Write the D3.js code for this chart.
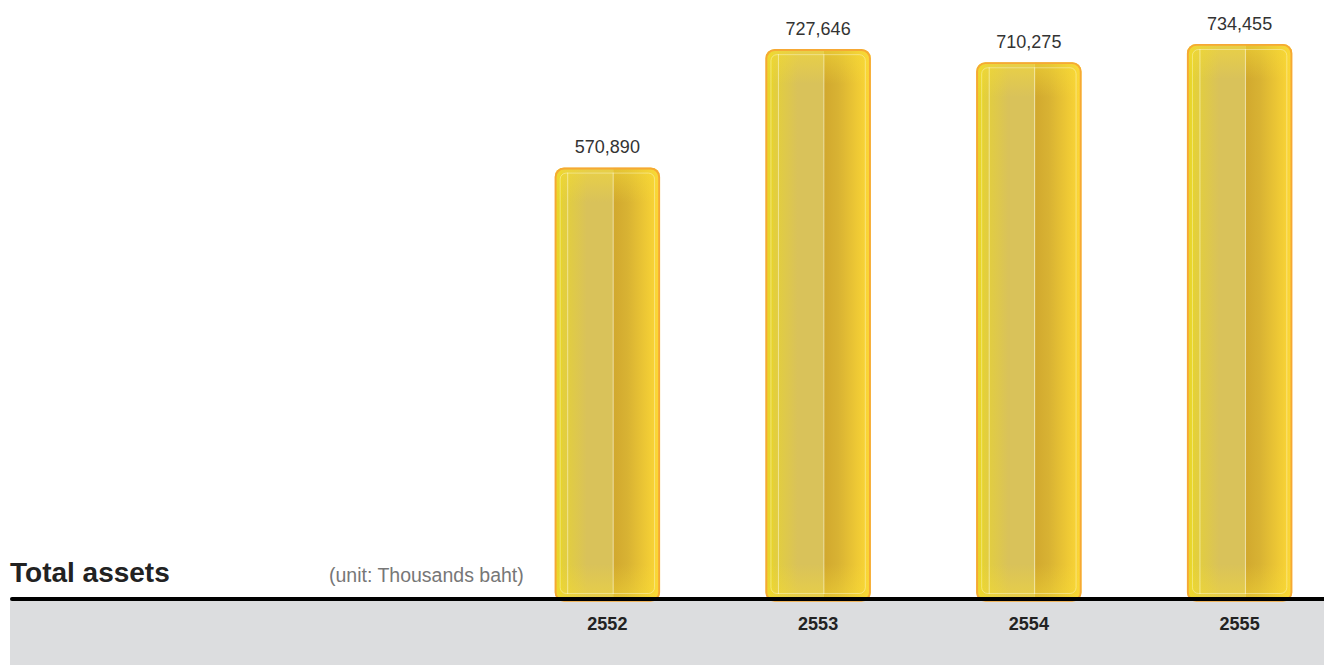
<!DOCTYPE html>
<html><head><meta charset="utf-8">
<script src="https://cdn.jsdelivr.net/npm/d3@7"></script>
<style>html,body{margin:0;padding:0;background:#fff;}svg{display:block;}</style>
</head><body>
<script>
const categories = ["2552", "2553", "2554", "2555"];
const values = [570890, 727646, 710275, 734455];
const valueLabels = ["570,890", "727,646", "710,275", "734,455"];
const title = "Total assets";
const unitLabel = "(unit: Thousands baht)";

const W = 1324, H = 665, base = 599;
const FONT = "'Liberation Sans', Arial, Helvetica, sans-serif";
const svg = d3.select("body").append("svg").attr("width", W).attr("height", H);

const x = d3.scaleBand().domain(categories).range([502, 1345]).paddingInner(0.5).paddingOuter(0.25);
const y = d3.scaleLinear().domain([0, 734455]).range([base, 44]);

const defs = svg.append("defs");
function hgrad(id, stops, vertical) {
  const g = defs.append("linearGradient").attr("id", id).attr("x1", 0).attr("y1", 0)
    .attr("x2", vertical ? 0 : 1).attr("y2", vertical ? 1 : 0);
  stops.forEach(s => g.append("stop").attr("offset", s[0]).attr("stop-color", s[1]).attr("stop-opacity", s[2] == null ? 1 : s[2]));
}
hgrad("barL", [[0, "#e9d62a"], [0.12, "#e7d42c"], [0.13, "#e4d03a"], [0.55, "#d9c25a"]]);
hgrad("barR", [[0, "#d1a82e"], [0.3, "#d8b233"], [1, "#fed936"]]);
hgrad("glossT", [[0, "#f6dc36", 0.55], [1, "#f6dc36", 0]], true);
hgrad("glossB", [[0, "#f6dc36", 0], [1, "#f6dc36", 0.5]], true);

// gray band
svg.append("rect").attr("x", 10).attr("y", 600).attr("width", W - 10).attr("height", H - 600).attr("fill", "#dcdddf");

const bars = svg.append("g").selectAll("g").data(categories).join("g");
bars.each(function(c, i) {
  const g = d3.select(this);
  const bx = x(c), bw = x.bandwidth(), top = y(values[i]), h = base - top;
  const clipId = "clip" + i;
  defs.append("clipPath").attr("id", clipId).append("rect")
    .attr("x", bx).attr("y", top).attr("width", bw).attr("height", h + 2).attr("rx", 9);
  const inner = g.append("g").attr("clip-path", `url(#${clipId})`);
  const mid = bx + bw * 0.555;
  inner.append("rect").attr("x", bx).attr("y", top).attr("width", mid - bx).attr("height", h + 2).attr("fill", "url(#barL)");
  inner.append("rect").attr("x", mid).attr("y", top).attr("width", bx + bw - mid).attr("height", h + 2).attr("fill", "url(#barR)");
  inner.append("rect").attr("x", bx).attr("y", top).attr("width", bw).attr("height", 35).attr("fill", "url(#glossT)");
  inner.append("rect").attr("x", bx).attr("y", base - 35).attr("width", bw).attr("height", 36).attr("fill", "url(#glossB)");
  // light stripes
  [bx + 13, mid].forEach(sx => inner.append("line")
    .attr("x1", sx).attr("x2", sx).attr("y1", top + 5).attr("y2", base - 5)
    .attr("stroke", "rgba(255,255,235,0.5)").attr("stroke-width", 1));
  inner.append("rect").attr("x", bx + 5.5).attr("y", top + 5.5).attr("width", bw - 11).attr("height", h - 11)
    .attr("rx", 6).attr("fill", "none").attr("stroke", "rgba(255,255,230,0.4)").attr("stroke-width", 1);
  g.append("rect").attr("x", bx + 0.9).attr("y", top + 0.9).attr("width", bw - 1.8).attr("height", h + 1)
    .attr("rx", 8.5).attr("fill", "none").attr("stroke", "#f6a834").attr("stroke-width", 1.9);
  g.append("text").attr("x", bx + bw / 2).attr("y", top - 14.5).attr("text-anchor", "middle")
    .attr("font-family", FONT).attr("font-size", 18).attr("fill", "#333")
    .text(valueLabels[i]);
  svg.append("text").attr("x", bx + bw / 2).attr("y", 630).attr("text-anchor", "middle")
    .attr("font-family", FONT).attr("font-size", 18).attr("font-weight", "bold").attr("fill", "#222")
    .text(c);
});

svg.append("line").attr("x1", 12).attr("x2", W).attr("y1", 599).attr("y2", 599)
  .attr("stroke", "#000").attr("stroke-width", 4).attr("stroke-linecap", "round");

svg.append("text").attr("x", 10).attr("y", 582).attr("font-family", FONT)
  .attr("font-size", 28).attr("font-weight", "bold").attr("fill", "#222").text(title);
svg.append("text").attr("x", 329).attr("y", 582).attr("font-family", FONT)
  .attr("font-size", 19.5).attr("fill", "#777").text(unitLabel);
</script>
</body></html>
